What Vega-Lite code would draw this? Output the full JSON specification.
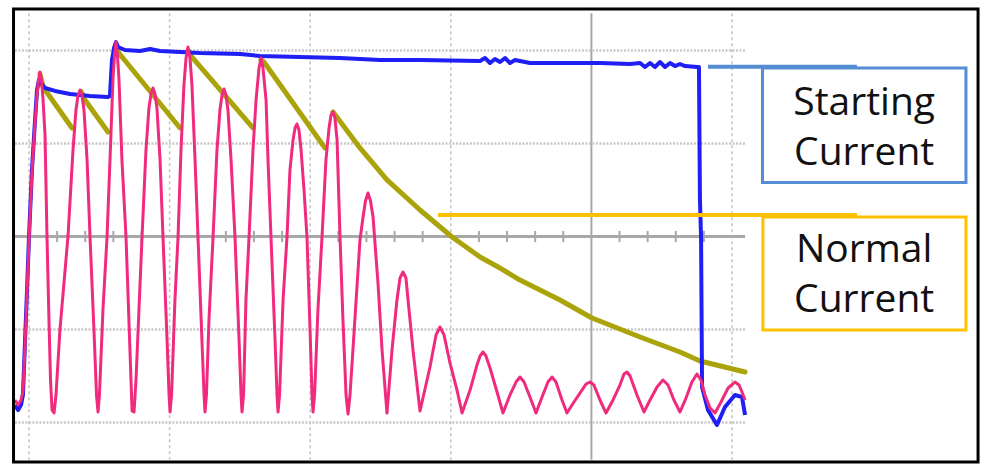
{
"$schema": "https://vega.github.io/schema/vega-lite/v6.json",
"width": 995, "height": 471,
"autosize": {"type": "fit", "contains": "padding"},
"padding": 0,
"background": "white",
"config": {"view": {"stroke": null}},
"datasets": {
"vgrid": [{"t":0},{"t":10},{"t":20},{"t":30},{"t":50}],
"vsolid": [{"t":40}],
"hgrid": [{"i":20},{"i":10},{"i":-10},{"i":-20}],
"hcenter": [{"i":0}],
"ticks": [{"t":2},{"t":4},{"t":6},{"t":8},{"t":12},{"t":14},{"t":16},{"t":18},{"t":22},{"t":24},{"t":26},{"t":28},{"t":32},{"t":34},{"t":36},{"t":38},{"t":42},{"t":44},{"t":46},{"t":48}],
"olive": [
{"seg":1,"t":0.78,"i":17.5},{"seg":1,"t":1.00,"i":16.08},{"seg":1,"t":3.06,"i":11.67},
{"seg":2,"t":3.70,"i":15.6},{"seg":2,"t":3.98,"i":14.68},{"seg":2,"t":5.62,"i":11.24},
{"seg":3,"t":6.19,"i":20.5},{"seg":3,"t":6.33,"i":19.84},{"seg":3,"t":10.74,"i":11.67},
{"seg":4,"t":11.31,"i":20.0},{"seg":4,"t":11.59,"i":19.30},{"seg":4,"t":15.93,"i":11.67},
{"seg":5,"t":16.50,"i":19.0},{"seg":5,"t":16.71,"i":18.76},{"seg":5,"t":21.05,"i":9.52},
{"seg":6,"t":21.62,"i":13.39},{"seg":6,"t":21.84,"i":12.96},{"seg":6,"t":23.54,"i":9.52},{"seg":6,"t":25.46,"i":6.08},{"seg":6,"t":27.81,"i":2.85},{"seg":6,"t":30.09,"i":-0.05},{"seg":6,"t":32.08,"i":-2.20},{"seg":6,"t":33.50,"i":-3.39},{"seg":6,"t":34.92,"i":-4.68},{"seg":6,"t":37.77,"i":-6.83},{"seg":6,"t":40.04,"i":-8.76},{"seg":6,"t":43.46,"i":-10.81},{"seg":6,"t":46.30,"i":-12.42},{"seg":6,"t":47.72,"i":-13.39},{"seg":6,"t":50.93,"i":-14.57}
],
"blue": [
{"t":-1.00,"i":-18.12},{"t":-0.78,"i":-18.66},{"t":-0.57,"i":-18.12},{"t":-0.43,"i":-17.04},{"t":-0.28,"i":-11.13},{"t":-0.14,"i":-5.75},{"t":0,"i":-0.05},{"t":0.21,"i":7.15},{"t":0.43,"i":12.53},{"t":0.57,"i":15.75},{"t":0.71,"i":16.83},{"t":0.85,"i":16.51},{"t":1.14,"i":15.97},{"t":1.85,"i":15.65},{"t":2.92,"i":15.32},{"t":4.34,"i":15.11},{"t":5.62,"i":15.00},{"t":5.76,"i":15.11},{"t":5.90,"i":18.98},{"t":6.05,"i":20.27},{"t":6.19,"i":20.91},{"t":6.33,"i":20.38},{"t":6.83,"i":20.05},{"t":7.90,"i":19.95},{"t":8.61,"i":20.16},{"t":9.32,"i":19.95},{"t":10.74,"i":19.84},{"t":12.16,"i":19.73},{"t":15.01,"i":19.62},{"t":16.43,"i":19.41},{"t":19.27,"i":19.30},{"t":22.12,"i":19.19},{"t":24.96,"i":18.98},{"t":27.81,"i":18.98},{"t":32.08,"i":18.87},{"t":32.43,"i":19.19},{"t":32.79,"i":18.66},{"t":33.14,"i":19.09},{"t":33.50,"i":18.76},{"t":33.86,"i":19.19},{"t":34.21,"i":18.66},{"t":34.57,"i":18.98},{"t":35.63,"i":18.66},{"t":37.77,"i":18.66},{"t":40.61,"i":18.66},{"t":42.75,"i":18.55},{"t":43.46,"i":18.66},{"t":43.81,"i":18.23},{"t":44.17,"i":18.66},{"t":44.52,"i":18.23},{"t":44.88,"i":18.76},{"t":45.24,"i":18.23},{"t":45.59,"i":18.66},{"t":45.95,"i":18.33},{"t":46.30,"i":18.55},{"t":46.66,"i":18.33},{"t":47.51,"i":18.23},{"t":47.65,"i":18.23},{"t":47.72,"i":3.92},{"t":47.80,"i":-0.05},{"t":47.87,"i":-16.18},{"t":48.29,"i":-18.66},{"t":48.93,"i":-20.27},{"t":49.50,"i":-18.33},{"t":50.21,"i":-17.04},{"t":50.71,"i":-17.26},{"t":50.93,"i":-19.19}
],
"pink": [
{"t":-1.00,"i":-17.58},{"t":-0.78,"i":-18.12},{"t":-0.57,"i":-17.58},{"t":-0.43,"i":-16.72},{"t":-0.28,"i":-11.67},{"t":-0.14,"i":-5.97},{"t":0,"i":-0.38},{"t":0.21,"i":6.94},{"t":0.43,"i":12.31},{"t":0.57,"i":15.22},{"t":0.68,"i":16.83},{"t":0.78,"i":17.69},{"t":0.89,"i":16.83},{"t":1.00,"i":14.68},{"t":1.14,"i":10.91},{"t":1.28,"i":-0.05},{"t":1.42,"i":-8.98},{"t":1.53,"i":-15.43},{"t":1.64,"i":-18.66},{"t":1.78,"i":-18.98},{"t":1.92,"i":-17.04},{"t":2.20,"i":-10.05},{"t":2.77,"i":-0.05},{"t":3.13,"i":9.30},{"t":3.34,"i":13.60},{"t":3.49,"i":15.22},{"t":3.63,"i":15.75},{"t":3.77,"i":15.22},{"t":3.91,"i":13.60},{"t":4.13,"i":8.23},{"t":4.34,"i":-0.05},{"t":4.62,"i":-10.05},{"t":4.80,"i":-17.04},{"t":4.91,"i":-18.87},{"t":5.01,"i":-17.04},{"t":5.26,"i":-7.90},{"t":5.55,"i":-0.05},{"t":5.76,"i":8.23},{"t":5.97,"i":16.83},{"t":6.08,"i":19.52},{"t":6.19,"i":20.91},{"t":6.29,"i":19.52},{"t":6.40,"i":16.83},{"t":6.61,"i":8.23},{"t":6.90,"i":-0.05},{"t":7.18,"i":-12.20},{"t":7.33,"i":-18.76},{"t":7.47,"i":-18.87},{"t":7.61,"i":-15.43},{"t":7.82,"i":-7.90},{"t":8.04,"i":-0.05},{"t":8.32,"i":9.30},{"t":8.53,"i":13.82},{"t":8.68,"i":15.32},{"t":8.82,"i":15.97},{"t":8.96,"i":15.32},{"t":9.10,"i":13.82},{"t":9.32,"i":8.23},{"t":9.53,"i":-0.05},{"t":9.82,"i":-11.13},{"t":9.96,"i":-17.04},{"t":10.03,"i":-18.87},{"t":10.14,"i":-17.04},{"t":10.38,"i":-6.83},{"t":10.60,"i":-0.05},{"t":10.81,"i":9.30},{"t":11.02,"i":16.29},{"t":11.17,"i":19.19},{"t":11.31,"i":20.38},{"t":11.45,"i":19.19},{"t":11.59,"i":16.29},{"t":11.81,"i":8.23},{"t":12.02,"i":-0.05},{"t":12.30,"i":-11.13},{"t":12.45,"i":-17.04},{"t":12.52,"i":-18.87},{"t":12.62,"i":-17.04},{"t":12.80,"i":-8.98},{"t":13.09,"i":-0.05},{"t":13.37,"i":9.30},{"t":13.58,"i":13.60},{"t":13.73,"i":15.22},{"t":13.87,"i":15.86},{"t":14.01,"i":15.22},{"t":14.15,"i":13.60},{"t":14.37,"i":8.23},{"t":14.65,"i":-0.05},{"t":14.94,"i":-11.13},{"t":15.08,"i":-17.04},{"t":15.15,"i":-18.87},{"t":15.26,"i":-17.04},{"t":15.43,"i":-6.83},{"t":15.65,"i":-0.05},{"t":15.93,"i":9.30},{"t":16.15,"i":14.68},{"t":16.36,"i":18.12},{"t":16.50,"i":19.19},{"t":16.64,"i":18.12},{"t":16.86,"i":14.68},{"t":17.00,"i":8.23},{"t":17.21,"i":-0.05},{"t":17.50,"i":-11.13},{"t":17.64,"i":-17.04},{"t":17.71,"i":-18.87},{"t":17.82,"i":-17.04},{"t":18.07,"i":-6.83},{"t":18.35,"i":-0.05},{"t":18.56,"i":7.15},{"t":18.78,"i":10.38},{"t":18.92,"i":11.67},{"t":19.06,"i":12.10},{"t":19.20,"i":11.45},{"t":19.35,"i":9.30},{"t":19.56,"i":5.00},{"t":19.77,"i":-0.05},{"t":19.99,"i":-10.05},{"t":20.13,"i":-17.04},{"t":20.20,"i":-18.87},{"t":20.31,"i":-17.04},{"t":20.55,"i":-7.90},{"t":20.84,"i":-0.05},{"t":21.12,"i":8.23},{"t":21.34,"i":11.67},{"t":21.48,"i":13.06},{"t":21.62,"i":13.39},{"t":21.76,"i":12.74},{"t":21.91,"i":10.38},{"t":22.12,"i":-0.05},{"t":22.33,"i":-8.98},{"t":22.55,"i":-17.04},{"t":22.69,"i":-19.09},{"t":22.83,"i":-17.04},{"t":23.04,"i":-12.20},{"t":23.54,"i":-0.38},{"t":23.76,"i":2.10},{"t":23.93,"i":3.82},{"t":24.11,"i":4.68},{"t":24.29,"i":3.82},{"t":24.47,"i":2.10},{"t":24.82,"i":-5.00},{"t":25.11,"i":-12.20},{"t":25.46,"i":-18.98},{"t":25.82,"i":-12.20},{"t":26.17,"i":-6.83},{"t":26.39,"i":-4.46},{"t":26.60,"i":-3.82},{"t":26.81,"i":-4.46},{"t":26.96,"i":-6.83},{"t":27.31,"i":-12.20},{"t":27.81,"i":-18.76},{"t":28.52,"i":-14.03},{"t":28.95,"i":-10.59},{"t":29.23,"i":-9.73},{"t":29.52,"i":-10.59},{"t":29.94,"i":-13.60},{"t":30.44,"i":-16.51},{"t":30.80,"i":-18.98},{"t":31.37,"i":-16.51},{"t":31.86,"i":-13.82},{"t":32.08,"i":-12.85},{"t":32.29,"i":-12.42},{"t":32.50,"i":-12.85},{"t":32.79,"i":-14.14},{"t":33.29,"i":-16.72},{"t":33.71,"i":-18.98},{"t":34.21,"i":-17.04},{"t":34.64,"i":-15.65},{"t":34.92,"i":-15.11},{"t":35.21,"i":-15.65},{"t":35.63,"i":-17.26},{"t":36.06,"i":-18.98},{"t":36.49,"i":-17.26},{"t":36.91,"i":-15.65},{"t":37.20,"i":-15.11},{"t":37.48,"i":-15.65},{"t":37.91,"i":-17.58},{"t":38.26,"i":-18.98},{"t":38.76,"i":-17.80},{"t":39.33,"i":-16.51},{"t":39.62,"i":-15.86},{"t":39.90,"i":-15.65},{"t":40.18,"i":-15.97},{"t":40.61,"i":-17.58},{"t":41.04,"i":-18.98},{"t":41.54,"i":-17.58},{"t":42.03,"i":-15.97},{"t":42.32,"i":-14.78},{"t":42.53,"i":-14.57},{"t":42.75,"i":-15.00},{"t":43.24,"i":-17.04},{"t":43.74,"i":-18.87},{"t":44.17,"i":-17.58},{"t":44.67,"i":-16.18},{"t":45.09,"i":-15.43},{"t":45.45,"i":-15.97},{"t":45.87,"i":-17.58},{"t":46.30,"i":-18.87},{"t":46.73,"i":-17.37},{"t":47.15,"i":-15.65},{"t":47.51,"i":-14.78},{"t":47.79,"i":-15.43},{"t":48.08,"i":-17.04},{"t":48.44,"i":-18.44},{"t":48.79,"i":-18.98},{"t":49.22,"i":-17.80},{"t":49.72,"i":-16.29},{"t":50.21,"i":-15.65},{"t":50.50,"i":-15.97},{"t":50.71,"i":-16.72},{"t":50.93,"i":-17.58}
],
"connectors": [{"name":"Starting","t1":48.29,"t2":58.89,"i":18.25},{"name":"Normal","t1":29.09,"t2":58.89,"i":2.31}],
"boxes": [{"name":"Starting","t1":52.17,"t2":66.64,"i1":18.12,"i2":5.81},{"name":"Normal","t1":52.20,"t2":66.64,"i1":2.10,"i2":-10.05}],
"labels": [{"text":"Starting","t":59.4,"i":13.06},{"text":"Current","t":59.4,"i":7.69},{"text":"Normal","t":59.4,"i":-2.74},{"text":"Current","t":59.4,"i":-8.12}],
"frame": [{"t1":-1.10,"t2":67.50,"i1":24.46,"i2":-24.25}]
},
"layer": [
{"data":{"name":"vgrid"},"mark":{"type":"rule","color":"#c4c4c4","strokeWidth":1.5,"strokeDash":[3,3]},
 "encoding":{"x":{"field":"t","type":"quantitative","scale":{"domain":[-2.0626,68.7055],"nice":false,"zero":false},"axis":null},"y":{"datum":24,"type":"quantitative","scale":{"domain":[-25.2151,25.4301],"nice":false,"zero":false},"axis":null},"y2":{"datum":-24}}},
{"data":{"name":"vsolid"},"mark":{"type":"rule","color":"#a8a8a8","strokeWidth":2},
 "encoding":{"x":{"field":"t","type":"quantitative"},"y":{"datum":24,"type":"quantitative"},"y2":{"datum":-24}}},
{"data":{"name":"hgrid"},"mark":{"type":"rule","color":"#c8c8c8","strokeWidth":2.5,"strokeDash":[2,1.5]},
 "encoding":{"y":{"field":"i","type":"quantitative"},"x":{"datum":-1.0,"type":"quantitative"},"x2":{"datum":50.93}}},
{"data":{"name":"hcenter"},"mark":{"type":"rule","color":"#a8a8a8","strokeWidth":3},
 "encoding":{"y":{"field":"i","type":"quantitative"},"x":{"datum":-1.0,"type":"quantitative"},"x2":{"datum":50.93}}},
{"data":{"name":"ticks"},"mark":{"type":"rule","color":"#a8a8a8","strokeWidth":2},
 "encoding":{"x":{"field":"t","type":"quantitative"},"y":{"datum":0.6,"type":"quantitative"},"y2":{"datum":-0.6}}},
{"data":{"name":"olive"},"mark":{"type":"line","color":"#aaa30a","strokeWidth":5,"strokeJoin":"round","strokeCap":"round"},
 "encoding":{"x":{"field":"t","type":"quantitative"},"y":{"field":"i","type":"quantitative"},"detail":{"field":"seg","type":"nominal"}}},
{"data":{"name":"blue"},"mark":{"type":"line","color":"#1e1ef5","strokeWidth":4,"strokeJoin":"round"},
 "encoding":{"x":{"field":"t","type":"quantitative"},"y":{"field":"i","type":"quantitative"}}},
{"data":{"name":"pink"},"mark":{"type":"line","color":"#f02a7c","strokeWidth":3,"strokeJoin":"round"},
 "encoding":{"x":{"field":"t","type":"quantitative"},"y":{"field":"i","type":"quantitative"}}},
{"data":{"name":"connectors"},"mark":{"type":"rule","strokeWidth":4},
 "encoding":{"x":{"field":"t1","type":"quantitative"},"x2":{"field":"t2"},"y":{"field":"i","type":"quantitative"},
 "color":{"field":"name","type":"nominal","scale":{"domain":["Starting","Normal"],"range":["#548dd4","#ffc000"]},"legend":null}}},
{"data":{"name":"boxes"},"mark":{"type":"rect","filled":false,"strokeWidth":3},
 "encoding":{"x":{"field":"t1","type":"quantitative"},"x2":{"field":"t2"},"y":{"field":"i1","type":"quantitative"},"y2":{"field":"i2"},
 "color":{"field":"name","type":"nominal","scale":{"domain":["Starting","Normal"],"range":["#548dd4","#ffc000"]},"legend":null}}},
{"data":{"name":"labels"},"mark":{"type":"text","font":"Open Sans","fontSize":39,"color":"#111111","align":"center","baseline":"alphabetic"},
 "encoding":{"x":{"field":"t","type":"quantitative"},"y":{"field":"i","type":"quantitative"},"text":{"field":"text"}}},
{"data":{"name":"frame"},"mark":{"type":"rect","filled":false,"stroke":"#000000","strokeWidth":3},
 "encoding":{"x":{"field":"t1","type":"quantitative"},"x2":{"field":"t2"},"y":{"field":"i1","type":"quantitative"},"y2":{"field":"i2"}}}
]
}
